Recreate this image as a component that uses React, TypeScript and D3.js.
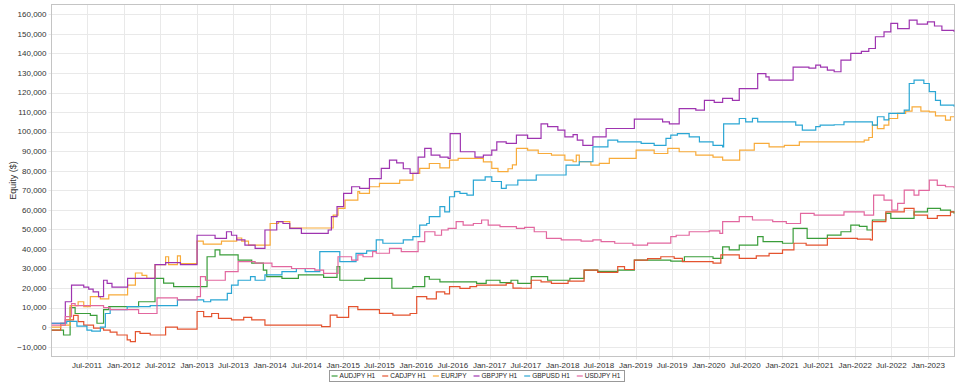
import { useRef, useEffect } from 'react';
import * as d3 from 'd3';

type Pt = [string, number];

const seriesNames = ['AUDJPY H1', 'CADJPY H1', 'EURJPY', 'GBPJPY H1', 'GBPUSD H1', 'USDJPY H1'];
const seriesColors = ['#3a9d3a', '#e4532f', '#f8ab3a', '#9e34b0', '#2aa6d4', '#e2679f'];

const audjpy: Pt[] = [
  ['2011-01-05', -1500], ['2011-03-06', -4000], ['2011-04-08', 10000], ['2011-05-03', 7000], ['2011-07-18', 6000],
  ['2011-08-20', 2000], ['2011-09-22', 9000], ['2011-10-18', 10500], ['2012-03-15', 13000], ['2012-06-05', 25000],
  ['2012-07-18', 22500], ['2012-09-06', 20700], ['2013-02-20', 36000], ['2013-04-01', 39500], ['2013-04-25', 37000],
  ['2013-07-25', 34300], ['2013-10-01', 32700], ['2013-11-28', 29200], ['2013-12-15', 25800], ['2014-03-01', 25000],
  ['2014-05-22', 26700], ['2014-09-25', 25500], ['2014-12-01', 31000], ['2014-12-15', 24000], ['2015-04-18', 25000],
  ['2015-09-01', 19900], ['2015-12-15', 20700], ['2016-02-12', 25800], ['2016-03-06', 24500], ['2016-04-28', 23200],
  ['2016-10-28', 22400], ['2016-12-15', 24000], ['2017-02-22', 22800], ['2017-04-18', 24000], ['2017-05-22', 22400],
  ['2017-07-28', 25800], ['2017-10-18', 24000], ['2018-02-06', 25000], ['2018-04-18', 29200], ['2018-06-25', 28500],
  ['2018-10-03', 29200], ['2018-12-25', 34300], ['2019-06-25', 33800], ['2019-09-01', 36000], ['2020-01-22', 35200],
  ['2020-03-10', 41100], ['2020-04-12', 39500], ['2020-06-01', 42000], ['2020-09-01', 46300], ['2020-09-28', 43700],
  ['2021-01-03', 42900], ['2021-02-25', 50500], ['2021-05-06', 45400], ['2021-08-15', 47100], ['2021-10-22', 48800],
  ['2021-12-10', 52200], ['2022-01-22', 51500], ['2022-03-01', 49700], ['2022-03-28', 54800], ['2022-06-03', 58200],
  ['2022-06-28', 55600], ['2022-10-22', 59000], ['2022-12-28', 60700], ['2023-03-03', 59800], ['2023-04-22', 59000],
  ['2023-05-10', 58000],
];

const cadjpy: Pt[] = [
  ['2011-01-05', -1500], ['2011-02-20', 2000], ['2011-03-15', 3700], ['2011-04-25', 6000], ['2011-05-18', 2800],
  ['2011-06-15', 1000], ['2011-08-03', -500], ['2011-09-22', -1500], ['2011-10-25', -2500], ['2011-11-28', -4000],
  ['2012-01-18', -6500], ['2012-02-03', -7400], ['2012-02-28', -2300], ['2012-03-22', -3200], ['2012-05-12', -4000],
  ['2012-07-28', 0], ['2012-09-25', -1000], ['2013-01-01', 8000], ['2013-02-03', 5400], ['2013-03-15', 7000],
  ['2013-04-18', 4500], ['2013-06-22', 3700], ['2013-08-22', 5000], ['2013-10-01', 3700], ['2013-12-06', 1000],
  ['2014-09-15', 300], ['2014-10-28', 6200], ['2014-12-01', 5000], ['2015-01-28', 10500], ['2015-03-15', 9000],
  ['2015-07-01', 7100], ['2015-09-06', 6200], ['2015-12-01', 7000], ['2016-01-03', 15600], ['2016-02-22', 14500],
  ['2016-04-10', 18000], ['2016-05-22', 17000], ['2016-06-15', 20700], ['2016-08-06', 19800], ['2016-09-25', 20700],
  ['2016-10-28', 21500], ['2017-03-25', 22400], ['2017-04-28', 20000], ['2017-06-08', 19900], ['2017-07-28', 24000],
  ['2017-09-15', 23200], ['2017-11-06', 22400], ['2018-01-28', 23500], ['2018-04-18', 29200], ['2018-06-25', 28000],
  ['2018-10-03', 31000], ['2018-11-06', 29500], ['2018-12-25', 34300], ['2019-03-01', 35000], ['2019-05-06', 36000],
  ['2019-07-12', 35200], ['2019-08-22', 33500], ['2020-01-22', 32700], ['2020-03-01', 37000], ['2020-06-01', 35200],
  ['2020-08-25', 36500], ['2020-10-28', 37700], ['2021-01-03', 39500], ['2021-03-01', 42900], ['2021-05-01', 42000],
  ['2021-08-15', 45400], ['2022-01-12', 45000], ['2022-03-18', 44600], ['2022-03-28', 54000], ['2022-06-03', 59000],
  ['2022-09-03', 60700], ['2022-10-22', 57300], ['2022-12-28', 55600], ['2023-02-15', 57000], ['2023-04-22', 59000],
  ['2023-05-10', 58500],
];

const eurjpy: Pt[] = [
  ['2011-01-05', 0], ['2011-02-20', 1000], ['2011-04-08', 11000], ['2011-05-18', 13000], ['2011-06-15', 10500],
  ['2011-07-18', 15600], ['2011-09-06', 14500], ['2011-10-18', 16500], ['2012-01-20', 21500], ['2012-02-28', 27700],
  ['2012-04-01', 26500], ['2012-04-25', 25000], ['2012-06-05', 32000], ['2012-07-28', 36000], ['2012-08-12', 32000],
  ['2012-09-25', 36500], ['2012-10-10', 32500], ['2013-01-01', 44000], ['2013-02-01', 42500], ['2013-05-03', 44000],
  ['2013-07-18', 45600], ['2013-08-12', 44000], ['2013-09-15', 42000], ['2014-01-01', 53000], ['2014-02-12', 54000],
  ['2014-04-09', 50700], ['2014-11-12', 57300], ['2014-12-06', 60700], ['2015-01-10', 65000], ['2015-03-15', 69300],
  ['2015-03-24', 68400], ['2015-05-12', 71800], ['2015-07-01', 73500], ['2015-10-10', 75200], ['2015-12-15', 78600],
  ['2016-01-18', 81200], ['2016-03-06', 83700], ['2016-04-28', 81500], ['2016-06-15', 85400], ['2016-07-28', 86300],
  ['2016-12-01', 84500], ['2017-01-12', 81200], ['2017-02-12', 79500], ['2017-04-03', 81000], ['2017-04-25', 83000],
  ['2017-05-15', 91400], ['2017-07-10', 90500], ['2017-09-01', 88800], ['2017-11-06', 88000], ['2018-01-12', 85400],
  ['2018-02-22', 84600], ['2018-03-10', 88000], ['2018-03-25', 84600], ['2018-05-22', 82900], ['2018-07-03', 83800],
  ['2018-08-22', 86300], ['2019-01-03', 90500], ['2019-04-03', 88800], ['2019-06-10', 91400], ['2019-08-06', 89700],
  ['2019-10-28', 88000], ['2020-01-22', 87000], ['2020-03-10', 85400], ['2020-06-03', 90500], ['2020-08-15', 94000],
  ['2020-10-28', 92200], ['2021-01-12', 93000], ['2021-03-28', 94800], ['2022-02-15', 95600], ['2022-03-10', 97000],
  ['2022-03-28', 103300], ['2022-04-22', 101500], ['2022-05-25', 103300], ['2022-06-18', 106700], ['2022-08-01', 109300],
  ['2022-09-10', 110500], ['2022-10-12', 112700], ['2022-11-25', 110500], ['2023-01-06', 110100], ['2023-02-06', 108000],
  ['2023-03-28', 105900], ['2023-04-22', 107600], ['2023-05-10', 107600],
];

const gbpjpy: Pt[] = [
  ['2011-01-05', 2000], ['2011-03-15', 13000], ['2011-04-15', 21500], ['2011-06-15', 20500], ['2011-07-10', 19500],
  ['2011-08-01', 18000], ['2011-08-28', 15600], ['2011-09-22', 24000], ['2011-10-10', 22400], ['2011-11-03', 20500],
  ['2012-01-20', 25000], ['2012-06-05', 32000], ['2012-07-28', 33000], ['2012-10-10', 32000], ['2013-01-01', 47000],
  ['2013-04-01', 45400], ['2013-05-28', 48800], ['2013-06-22', 47000], ['2013-07-18', 44600], ['2013-08-28', 42000],
  ['2013-10-18', 40300], ['2013-12-06', 49700], ['2014-02-03', 54000], ['2014-03-06', 53000], ['2014-04-09', 50500],
  ['2014-06-06', 48000], ['2014-10-18', 49700], ['2014-11-03', 56500], ['2014-12-01', 61600], ['2015-01-03', 68400],
  ['2015-02-12', 71800], ['2015-03-24', 71000], ['2015-05-12', 76000], ['2015-07-10', 81200], ['2015-08-20', 85400],
  ['2015-09-25', 84000], ['2015-10-28', 81000], ['2015-12-01', 78600], ['2016-01-10', 87000], ['2016-02-12', 91400],
  ['2016-03-15', 88000], ['2016-04-28', 87000], ['2016-06-08', 86300], ['2016-06-18', 99000], ['2016-08-08', 89700],
  ['2016-10-20', 87000], ['2016-12-01', 88000], ['2017-01-12', 90500], ['2017-02-06', 94800], ['2017-03-25', 94000],
  ['2017-05-15', 98200], ['2017-07-10', 96500], ['2017-09-15', 104000], ['2017-10-18', 102500], ['2017-12-08', 100800],
  ['2018-01-12', 97300], ['2018-02-22', 98500], ['2018-03-15', 95600], ['2018-04-12', 93000], ['2018-06-01', 97300],
  ['2018-08-06', 101600], ['2018-12-25', 106400], ['2019-05-15', 105000], ['2019-06-18', 104000], ['2019-08-06', 111800],
  ['2019-10-28', 111000], ['2019-12-10', 116000], ['2020-01-28', 115000], ['2020-03-10', 117000], ['2020-04-28', 116000],
  ['2020-06-01', 122000], ['2020-09-01', 129700], ['2020-10-12', 128000], ['2020-10-28', 126300], ['2021-02-25', 133000],
  ['2021-05-15', 132500], ['2021-06-18', 134000], ['2021-07-12', 133000], ['2021-08-15', 131400], ['2021-09-18', 130600],
  ['2021-10-22', 136600], ['2021-12-10', 140000], ['2022-02-01', 141000], ['2022-03-10', 142500], ['2022-04-12', 148500],
  ['2022-05-25', 151000], ['2022-06-28', 155300], ['2022-08-01', 152700], ['2022-09-28', 157000], ['2022-11-06', 155000],
  ['2022-12-28', 156100], ['2023-02-01', 154000], ['2023-03-10', 151800], ['2023-05-10', 151000],
];

const gbpusd: Pt[] = [
  ['2011-01-05', 2000], ['2011-03-22', 3000], ['2011-05-12', 500], ['2011-07-01', -1500], ['2011-07-25', -2000],
  ['2011-09-06', 0], ['2011-10-01', 7000], ['2011-10-25', 9000], ['2012-01-18', 10500], ['2012-05-12', 11000],
  ['2012-09-25', 14000], ['2013-02-03', 13000], ['2013-03-10', 14000], ['2013-06-01', 17300], ['2013-06-22', 21500],
  ['2013-07-25', 24000], ['2013-09-25', 25800], ['2013-10-18', 24000], ['2013-12-06', 26700], ['2014-03-01', 28400],
  ['2014-05-12', 30000], ['2014-06-25', 28400], ['2014-09-06', 38600], ['2014-12-15', 33500], ['2015-03-06', 37700],
  ['2015-04-28', 39000], ['2015-06-15', 44600], ['2015-07-18', 42900], ['2015-10-28', 44600], ['2015-12-15', 46300],
  ['2016-01-18', 52200], ['2016-02-22', 53000], ['2016-03-06', 56500], ['2016-04-28', 61600], ['2016-05-22', 59000],
  ['2016-06-15', 66700], ['2016-07-10', 69300], ['2016-08-06', 68400], ['2016-09-10', 67500], ['2016-10-12', 75200],
  ['2016-12-10', 76900], ['2017-01-12', 74500], ['2017-03-01', 71000], ['2017-03-25', 72700], ['2017-05-22', 75200],
  ['2017-08-22', 77800], ['2018-01-18', 82900], ['2018-03-25', 84600], ['2018-06-01', 92200], ['2018-08-15', 95600],
  ['2018-10-03', 94800], ['2019-01-28', 94000], ['2019-04-03', 93000], ['2019-06-01', 96500], ['2019-06-25', 98200],
  ['2019-07-28', 99000], ['2019-09-25', 97300], ['2019-11-15', 94800], ['2020-01-22', 93000], ['2020-03-10', 92200],
  ['2020-03-15', 104000], ['2020-06-01', 106700], ['2020-07-03', 105000], ['2020-08-06', 106800], ['2020-09-01', 105000],
  ['2021-03-10', 103300], ['2021-04-12', 100800], ['2021-06-18', 102500], ['2021-07-10', 103300], ['2021-09-18', 103500],
  ['2021-11-06', 105000], ['2022-03-28', 103300], ['2022-04-22', 107600], ['2022-05-25', 106000], ['2022-06-18', 109300],
  ['2022-09-03', 111000], ['2022-09-28', 124600], ['2022-10-22', 126300], ['2022-12-10', 124600], ['2023-01-06', 120400],
  ['2023-02-06', 116000], ['2023-03-03', 113500], ['2023-05-10', 112700],
];

const usdjpy: Pt[] = [
  ['2011-01-05', 1000], ['2011-03-15', 5400], ['2011-04-15', 12000], ['2011-05-03', 11000], ['2011-09-22', 10000],
  ['2011-10-25', 9000], ['2012-03-15', 7000], ['2012-06-15', 15000], ['2012-09-25', 14000], ['2013-01-01', 15600],
  ['2013-01-18', 25800], ['2013-02-12', 24000], ['2013-05-22', 28400], ['2013-07-25', 33500], ['2013-10-18', 32700],
  ['2014-01-10', 31000], ['2014-04-18', 30000], ['2014-08-12', 29200], ['2014-09-25', 27500], ['2014-12-06', 36000],
  ['2015-02-12', 34300], ['2015-03-15', 37000], ['2015-04-10', 36000], ['2015-05-28', 38600], ['2015-06-15', 37800],
  ['2015-08-20', 40300], ['2015-10-18', 38600], ['2016-01-10', 43700], ['2016-02-12', 48800], ['2016-04-03', 47000],
  ['2016-05-06', 49700], ['2016-06-08', 50500], ['2016-07-18', 54000], ['2016-08-22', 52200], ['2016-10-12', 53000],
  ['2016-11-22', 54800], ['2016-12-25', 52200], ['2017-02-22', 51400], ['2017-05-15', 50500], ['2017-06-25', 51000],
  ['2017-08-12', 48800], ['2017-10-12', 45400], ['2017-12-25', 44600], ['2018-04-03', 44000], ['2018-06-01', 44600],
  ['2018-07-12', 43700], ['2018-09-18', 42900], ['2018-12-18', 42000], ['2019-03-01', 43000], ['2019-06-25', 46300],
  ['2019-07-22', 47000], ['2019-09-25', 48800], ['2020-01-03', 49200], ['2020-02-25', 48000], ['2020-03-10', 54000],
  ['2020-06-01', 56500], ['2020-08-06', 54800], ['2020-11-15', 54000], ['2021-01-22', 53000], ['2021-04-03', 58200],
  ['2021-06-10', 57300], ['2021-11-06', 59000], ['2022-02-15', 57300], ['2022-04-03', 67500], ['2022-05-25', 65000],
  ['2022-07-03', 59900], ['2022-08-01', 63300], ['2022-09-03', 70100], ['2022-10-22', 67500], ['2022-11-15', 70000],
  ['2023-01-06', 75200], ['2023-02-15', 72500], ['2023-03-28', 71800], ['2023-05-10', 71000],
];

const allSeries = [audjpy, cadjpy, eurjpy, gbpjpy, gbpusd, usdjpy];
const dateRange = ['2011-01-05', '2023-05-12'];
const yRange = [-15000, 165000];
const yTicks = d3.range(-10000, 160001, 10000);

export default function App() {
  const svgRef = useRef<SVGSVGElement>(null);

  useEffect(() => {
    if (!svgRef.current) return;
    const svg = d3.select(svgRef.current);
    svg.selectAll('*').remove();

    const W = 960, H = 386;
    const margin = { top: 4.5, right: 5.5, bottom: 29.5, left: 51.5 };
    const font = '"Liberation Sans", Arial, sans-serif';
    const parse = d3.timeParse('%Y-%m-%d');

    const x = d3.scaleTime()
      .domain(dateRange.map(d => parse(d) as Date))
      .range([margin.left, W - margin.right]);
    const y = d3.scaleLinear()
      .domain(yRange)
      .range([H - margin.bottom, margin.top]);

    const x0 = margin.left, x1 = W - margin.right;
    const y0 = margin.top, y1 = H - margin.bottom;

    svg.append('rect')
      .attr('x', 0).attr('y', 0).attr('width', W).attr('height', H)
      .attr('fill', '#fff');

    // grid
    const xTicks = x.ticks(d3.timeMonth.every(6) as d3.TimeInterval);
    svg.append('g')
      .selectAll('line')
      .data(xTicks)
      .join('line')
      .attr('x1', d => Math.round(x(d)) + 0.5)
      .attr('x2', d => Math.round(x(d)) + 0.5)
      .attr('y1', y0)
      .attr('y2', y1 + 3)
      .attr('stroke', '#e9e9e9')
      .attr('stroke-width', 1);

    svg.append('g')
      .selectAll('line')
      .data(yTicks)
      .join('line')
      .attr('x1', x0 - 3)
      .attr('x2', x1)
      .attr('y1', d => Math.round(y(d)) + 0.5)
      .attr('y2', d => Math.round(y(d)) + 0.5)
      .attr('stroke', '#e9e9e9')
      .attr('stroke-width', 1);

    // frame
    svg.append('rect')
      .attr('x', x0).attr('y', y0)
      .attr('width', x1 - x0).attr('height', y1 - y0)
      .attr('fill', 'none')
      .attr('stroke', '#c4c4c4');

    // axis labels
    svg.append('g')
      .selectAll('text')
      .data(yTicks)
      .join('text')
      .attr('x', x0 - 5)
      .attr('y', d => y(d))
      .attr('dy', '0.35em')
      .attr('text-anchor', 'end')
      .attr('font-family', font)
      .attr('font-size', 8)
      .attr('fill', '#333')
      .text(d => d3.format(',')(d));

    const fmt = d3.timeFormat('%b-%Y');
    svg.append('g')
      .selectAll('text')
      .data(xTicks)
      .join('text')
      .attr('x', d => x(d))
      .attr('y', 368)
      .attr('text-anchor', 'middle')
      .attr('font-family', font)
      .attr('font-size', 8)
      .attr('fill', '#333')
      .text(d => fmt(d));

    svg.append('text')
      .attr('transform', `translate(16,${(y0 + y1) / 2}) rotate(-90)`)
      .attr('text-anchor', 'middle')
      .attr('font-family', font)
      .attr('font-size', 9)
      .attr('fill', '#333')
      .text('Equity ($)');

    // lines
    const line = d3.line<Pt>()
      .x(d => x(parse(d[0]) as Date))
      .y(d => y(d[1]))
      .curve(d3.curveStepAfter);

    const plot = svg.append('g');
    plot.append('clipPath').attr('id', 'plotclip')
      .append('rect').attr('x', x0).attr('y', y0).attr('width', x1 - x0).attr('height', y1 - y0);
    const lines = plot.append('g').attr('clip-path', 'url(#plotclip)');
    allSeries.forEach((s, i) => {
      lines.append('path')
        .datum(s)
        .attr('fill', 'none')
        .attr('stroke', seriesColors[i])
        .attr('stroke-width', 1.2)
        .attr('d', line);
    });

    // legend
    const legend = svg.append('g');
    const items = legend.selectAll('g')
      .data(seriesNames)
      .join('g');
    items.append('line')
      .attr('x1', 0).attr('x2', 6)
      .attr('y1', 0).attr('y2', 0)
      .attr('stroke', (_, i) => seriesColors[i])
      .attr('stroke-width', 1.2);
    items.append('text')
      .attr('x', 8)
      .attr('y', 0)
      .attr('dy', '0.35em')
      .attr('font-family', font)
      .attr('font-size', 6.5)
      .attr('fill', '#222')
      .text(d => d);

    let cx = 0;
    const gap = 7;
    items.each(function () {
      const t = d3.select(this).select('text').node() as SVGTextElement;
      const w = 8 + t.getComputedTextLength();
      d3.select(this).attr('data-x', cx);
      cx += w + gap;
    });
    const total = cx - gap;
    const lx = 476 - total / 2;
    const ly = 376;
    items.attr('transform', function () {
      return `translate(${lx + Number(d3.select(this).attr('data-x'))},${ly})`;
    });
    legend.insert('rect', ':first-child')
      .attr('x', Math.round(lx - 3) + 0.5)
      .attr('y', 370.5)
      .attr('width', Math.round(total + 6))
      .attr('height', 11)
      .attr('fill', '#fff')
      .attr('stroke', '#999');
  }, []);

  return (
    <svg
      ref={svgRef}
      width={960}
      height={386}
      style={{ position: 'absolute', left: 0, top: 0 }}
    />
  );
}
